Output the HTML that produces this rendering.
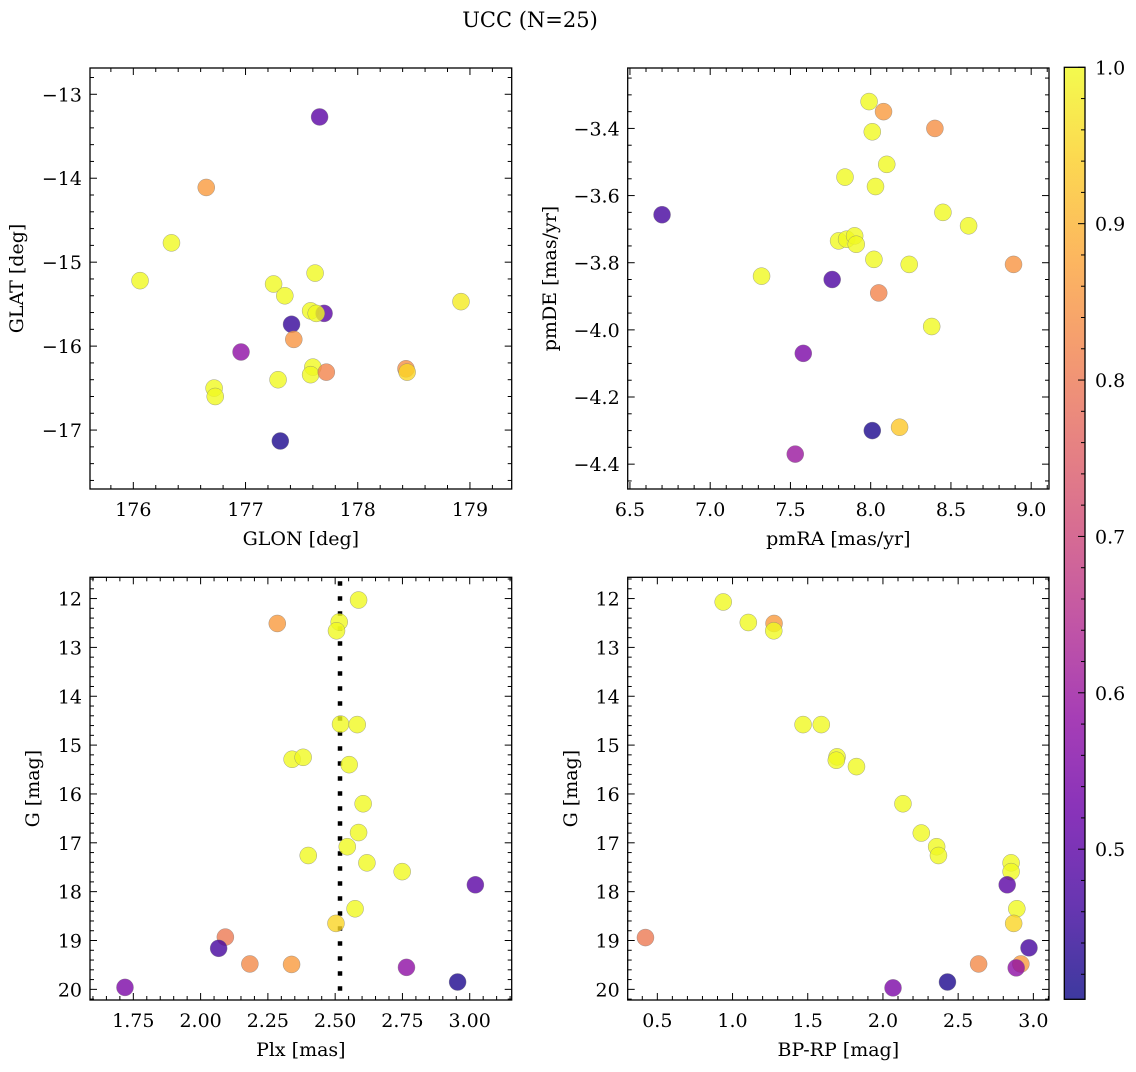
<!DOCTYPE html>
<html><head><meta charset="utf-8">
<style>
html,body{margin:0;padding:0;background:#fff;}
svg text{font-family:"DejaVu Serif","Liberation Serif",serif;fill:#000;}
</style></head>
<body>
<svg id="fig" width="1136" height="1067" viewBox="0 0 1136 1067" xmlns="http://www.w3.org/2000/svg">
<text x="530" y="27" font-size="21" text-anchor="middle">UCC (N=25)</text>
</svg>
<script>
// ---- data ----
const glon = [177.66,176.65,176.34,176.06,177.25,177.35,177.62,177.58,177.70,177.63,177.41,177.43,176.96,177.60,177.58,177.72,177.29,176.72,176.73,178.43,178.44,178.92,177.31];
const glat = [-13.27,-14.11,-14.77,-15.22,-15.26,-15.40,-15.13,-15.58,-15.61,-15.61,-15.74,-15.92,-16.07,-16.25,-16.34,-16.31,-16.40,-16.50,-16.60,-16.27,-16.31,-15.47,-17.13];
const probP1 = [0.50,0.86,1,1,1,1,1,1,0.50,1,0.45,0.85,0.58,1,1,0.82,1,1,1,0.84,0.95,0.98,0.42];

const pmra = [7.99,8.08,8.40,8.01,8.10,7.84,8.03,6.70,8.45,8.61,7.80,7.85,7.90,7.91,8.02,8.24,8.89,7.32,7.76,8.05,8.38,7.58,8.01,8.18,7.53];
const pmde = [-3.32,-3.35,-3.40,-3.41,-3.507,-3.545,-3.573,-3.657,-3.65,-3.69,-3.735,-3.73,-3.72,-3.745,-3.79,-3.805,-3.805,-3.84,-3.85,-3.89,-3.99,-4.07,-4.30,-4.29,-4.37];
const probP2 = [1,0.86,0.84,1,1,1,1,0.47,1,1,1,1,1,1,1,1,0.85,1,0.48,0.82,1,0.55,0.42,0.93,0.60];

const plx = [2.587,2.285,2.515,2.505,2.52,2.582,2.34,2.381,2.552,2.604,2.587,2.545,2.40,2.618,2.749,3.021,2.574,2.503,2.092,2.067,2.183,2.338,2.765,2.955,1.719];
const gmag3 = [12.03,12.51,12.48,12.66,14.57,14.58,15.29,15.25,15.40,16.20,16.79,17.08,17.26,17.41,17.59,17.86,18.35,18.65,18.93,19.16,19.48,19.49,19.55,19.85,19.96];
const probP3 = [1,0.86,1,1,1,1,1,1,1,1,1,1,1,1,1,0.50,1,0.95,0.80,0.47,0.83,0.86,0.58,0.42,0.55];

const bprp = [0.938,1.105,1.276,1.274,1.469,1.59,1.695,1.69,1.824,2.133,2.255,2.357,2.369,2.852,2.852,2.826,2.89,2.869,0.421,2.971,2.636,2.917,2.886,2.429,2.067];
const gmag4 = [12.07,12.49,12.51,12.66,14.58,14.58,15.24,15.31,15.44,16.20,16.80,17.08,17.26,17.41,17.59,17.86,18.35,18.65,18.94,19.15,19.48,19.48,19.56,19.85,19.97];
const probP4 = [1,1,0.86,1,1,1,1,1,1,1,1,1,1,1,1,0.50,1,0.95,0.80,0.47,0.83,0.86,0.58,0.42,0.55];

const plxMedian = [2.518];
const cbTicks = [0.5,0.6,0.7,0.8,0.9,1.0];
const cbRange = [0.404,1.0];

const NS="http://www.w3.org/2000/svg";
const svg=document.getElementById('fig');
function mk(tag,attrs,parent){const e=document.createElementNS(NS,tag);for(const k in attrs)e.setAttribute(k,attrs[k]);(parent||svg).appendChild(e);return e;}

const plasma=[[13,8,135],[65,4,157],[106,0,168],[143,13,164],[177,42,144],[204,71,120],[225,100,98],[242,132,75],[252,166,54],[252,206,37],[240,249,33]];
function cmap(t){t=Math.max(0,Math.min(1,t));const s=t*10;const i=Math.min(9,Math.floor(s));const f=s-i;const a=plasma[i],b=plasma[i+1];
  const c=[0,1,2].map(k=>Math.round(a[k]+(b[k]-a[k])*f));return `rgb(${c[0]},${c[1]},${c[2]})`;}
function pcol(p){return cmap((p-cbRange[0])/(cbRange[1]-cbRange[0]));}

function fmt(v,d){let s=v.toFixed(d);if(v<0)s='\u2212'+s.slice(1);return s;}

const TICK_FS=19, LABEL_FS=19;

function panel(o){
  const g=mk('g',{});
  
  
  const X=v=>o.L+(v-o.xr[0])/(o.xr[1]-o.xr[0])*(o.R-o.L);
  const Y=v=>o.inv? o.T+(v-o.yr[0])/(o.yr[1]-o.yr[0])*(o.B-o.T) : o.B-(v-o.yr[0])/(o.yr[1]-o.yr[0])*(o.B-o.T);
  const tg=mk('g',{stroke:'#000','stroke-width':1},g);
  
  
  const eps=1e-9;
  for(let v=Math.ceil(o.xr[0]/o.xmin-eps)*o.xmin; v<=o.xr[1]+eps; v+=o.xmin){
    const isMaj=Math.abs(v/o.xmaj-Math.round(v/o.xmaj))<1e-6; const len=isMaj?7:4; const x=X(v);
    mk('line',{x1:x,x2:x,y1:o.B,y2:o.B-len},tg); mk('line',{x1:x,x2:x,y1:o.T,y2:o.T+len},tg);
  }
  for(let v=Math.ceil(o.yr[0]/o.ymin-eps)*o.ymin; v<=o.yr[1]+eps; v+=o.ymin){
    const isMaj=Math.abs(v/o.ymaj-Math.round(v/o.ymaj))<1e-6; const len=isMaj?7:4; const y=Y(v);
    mk('line',{x1:o.L,x2:o.L+len,y1:y,y2:y},tg); mk('line',{x1:o.R,x2:o.R-len,y1:y,y2:y},tg);
  }
  o.xt.forEach(v=>{const t=mk('text',{x:X(v),y:o.B+27,'font-size':TICK_FS,'text-anchor':'middle'},g);t.textContent=fmt(v,o.xd);
    
    });
  o.yt.forEach(v=>{const t=mk('text',{x:o.L-8,y:Y(v)+7,'font-size':TICK_FS,'text-anchor':'end'},g);t.textContent=fmt(v,o.yd);
    
    });
  const xl=mk('text',{x:(o.L+o.R)/2,y:o.B+56,'font-size':LABEL_FS,'text-anchor':'middle'},g);xl.textContent=o.xlabel;
  
  
  const yx=o.ylx, yy=(o.T+o.B)/2;
  const yl=mk('text',{x:yx,y:yy,'font-size':LABEL_FS,'text-anchor':'middle',transform:`rotate(-90 ${yx} ${yy})`},g);yl.textContent=o.ylabel;
  
  
  if(o.vline!==undefined){
    const vl=mk('line',{x1:X(o.vline),x2:X(o.vline),y1:o.T+4,y2:o.B,stroke:'#000','stroke-width':4.5,'stroke-dasharray':'4.5 10.5'},g);
    
    
  }
  o.xs.forEach((xv,i)=>{
    const c=mk('circle',{cx:X(xv),cy:Y(o.ys[i]),r:8.5,fill:pcol(o.ps[i]),'fill-opacity':0.8,stroke:'#7a7a7a','stroke-width':0.5,'stroke-opacity':0.7},g);
    
    
  });
  const fr=mk('rect',{x:o.L,y:o.T,width:o.R-o.L,height:o.B-o.T,fill:'none',stroke:'#000','stroke-width':1.3},g);
  
  
}

panel({name:'glon-glat-panel',L:90,R:511.7,T:68,B:489,xr:[175.614,179.372],yr:[-17.702,-12.687],inv:false,
  xmaj:1,xmin:0.2,ymaj:1,ymin:0.2,xt:[176,177,178,179],yt:[-13,-14,-15,-16,-17],xd:0,yd:0,
  xlabel:'GLON [deg]',ylabel:'GLAT [deg]',ylx:23,xs:glon,ys:glat,ps:probP1});
panel({name:'pm-panel',L:627.7,R:1049,T:68,B:489,xr:[6.486,9.111],yr:[-4.474,-3.22],inv:false,
  xmaj:0.5,xmin:0.1,ymaj:0.2,ymin:0.05,xt:[6.5,7.0,7.5,8.0,8.5,9.0],yt:[-3.4,-3.6,-3.8,-4.0,-4.2,-4.4],xd:1,yd:1,
  xlabel:'pmRA [mas/yr]',ylabel:'pmDE [mas/yr]',ylx:556,xs:pmra,ys:pmde,ps:probP2});
panel({name:'plx-g-panel',L:90,R:511.7,T:577.3,B:1000,xr:[1.589,3.156],yr:[11.565,20.218],inv:true,
  xmaj:0.25,xmin:0.05,ymaj:1,ymin:0.2,xt:[1.75,2.00,2.25,2.50,2.75,3.00],yt:[12,13,14,15,16,17,18,19,20],xd:2,yd:0,
  xlabel:'Plx [mas]',ylabel:'G [mag]',ylx:39,xs:plx,ys:gmag3,ps:probP3,vline:plxMedian[0]});
panel({name:'cmd-panel',L:627.7,R:1049,T:577.3,B:1000,xr:[0.303,3.104],yr:[11.565,20.218],inv:true,
  xmaj:0.5,xmin:0.1,ymaj:1,ymin:0.2,xt:[0.5,1.0,1.5,2.0,2.5,3.0],yt:[12,13,14,15,16,17,18,19,20],xd:1,yd:0,
  xlabel:'BP-RP [mag]',ylabel:'G [mag]',ylx:577,xs:bprp,ys:gmag4,ps:probP4});

(function(){
  const L=1064.3,R=1085,T=67.3,B=999.3;
  const g=mk('g',{});
  
  
  const defs=mk('defs',{},g);
  const lg=mk('linearGradient',{id:'cbg',x1:0,y1:1,x2:0,y2:0},defs);
  for(let i=0;i<=20;i++){mk('stop',{offset:i/20,'stop-color':cmap(i/20),'stop-opacity':0.8},lg);}
  const r=mk('rect',{x:L,y:T,width:R-L,height:B-T,fill:'url(#cbg)',stroke:'#000','stroke-width':1.3},g);
  
  
  const Yc=v=>B-(v-cbRange[0])/(cbRange[1]-cbRange[0])*(B-T);
  for(let k=Math.ceil(cbRange[0]/0.02);k*0.02<=cbRange[1]+1e-9;k++){
    const v=k*0.02;const maj=Math.abs(v*10-Math.round(v*10))<1e-6;const y=Yc(v);
    mk('line',{x1:R,x2:R-(maj?7:4),y1:y,y2:y,stroke:'#000','stroke-width':1},g);
  }
  cbTicks.forEach(v=>{const t=mk('text',{x:R+10,y:Yc(v)+7,'font-size':TICK_FS},g);t.textContent=v.toFixed(1);
    
    });
})();
</script>
</body></html>
